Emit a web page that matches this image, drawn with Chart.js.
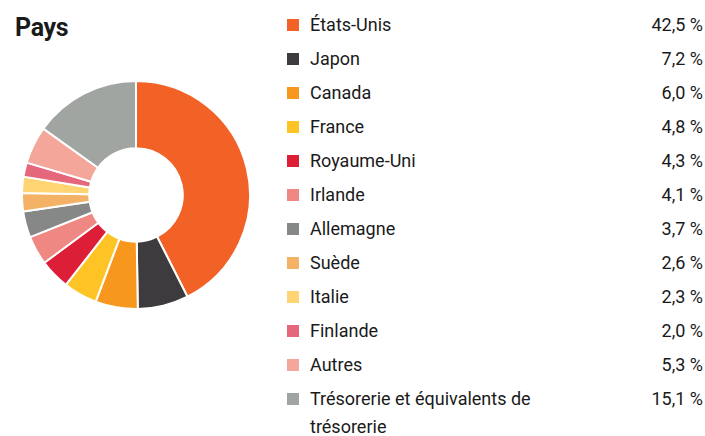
<!DOCTYPE html>
<html>
<head>
<meta charset="utf-8">
<script src="https://cdn.jsdelivr.net/npm/chart.js@4"></script>
<style>
  body{margin:0;background:#fff;font-family:"Roboto",sans-serif;color:#1a1a1a;}
  #wrap{position:relative;width:705px;height:436px;}
  #title{position:absolute;left:15px;top:13px;font-size:25px;font-weight:bold;letter-spacing:-0.3px;}
  #pie{position:absolute;left:21px;top:80px;}
  #legend{position:absolute;left:287px;top:11px;width:416px;}
  .row{display:flex;align-items:flex-start;font-size:18px;line-height:28px;margin-bottom:6px;}
  .sw{width:12px;height:12px;margin-top:8px;flex:none;}
  .lab{margin-left:11px;width:230px;}
  .val{margin-left:auto;text-align:right;}
</style>
</head>
<body>
<div id="wrap">
  <div id="title">Pays</div>
  <canvas id="pie" width="230" height="230"></canvas>
  <div id="legend"></div>
</div>
<script>
const pays = ['États-Unis','Japon','Canada','France','Royaume-Uni','Irlande','Allemagne','Suède','Italie','Finlande','Autres','Trésorerie et équivalents de trésorerie'];
const valeurs = [42.5,7.2,6.0,4.8,4.3,4.1,3.7,2.6,2.3,2.0,5.3,15.1];
const couleurs = ['#F26125','#3D3B3E','#F7971E','#FEC325','#DC1F36','#EF8883','#868887','#F4B266','#FFD574','#E5677C','#F4A69A','#A1A5A1'];

// legend html
const leg = document.getElementById('legend')
pays.forEach((p,i)=>{
  const row = document.createElement('div')
  row.className='row'
  row.innerHTML = '<div class="sw" style="background:'+couleurs[i]+'"></div><div class="lab">'+p+'</div><div class="val">'+valeurs[i].toFixed(1).replace('.',',')+'\u00a0%</div>'
  leg.appendChild(row)
})

new Chart('pie', {
  type: 'doughnut',
  data: {
    labels: pays,
    datasets: [{
      data: valeurs,
      backgroundColor: couleurs,
      borderColor: '#fff',
      borderWidth: 2
    }]
  },
  options: {
    responsive: false,
    animation: false,
    cutout: '41%',
    layout: {padding: 0},
    plugins: {legend: {display: false}, tooltip: {enabled: false}}
  }
});
</script>
</body>
</html>
